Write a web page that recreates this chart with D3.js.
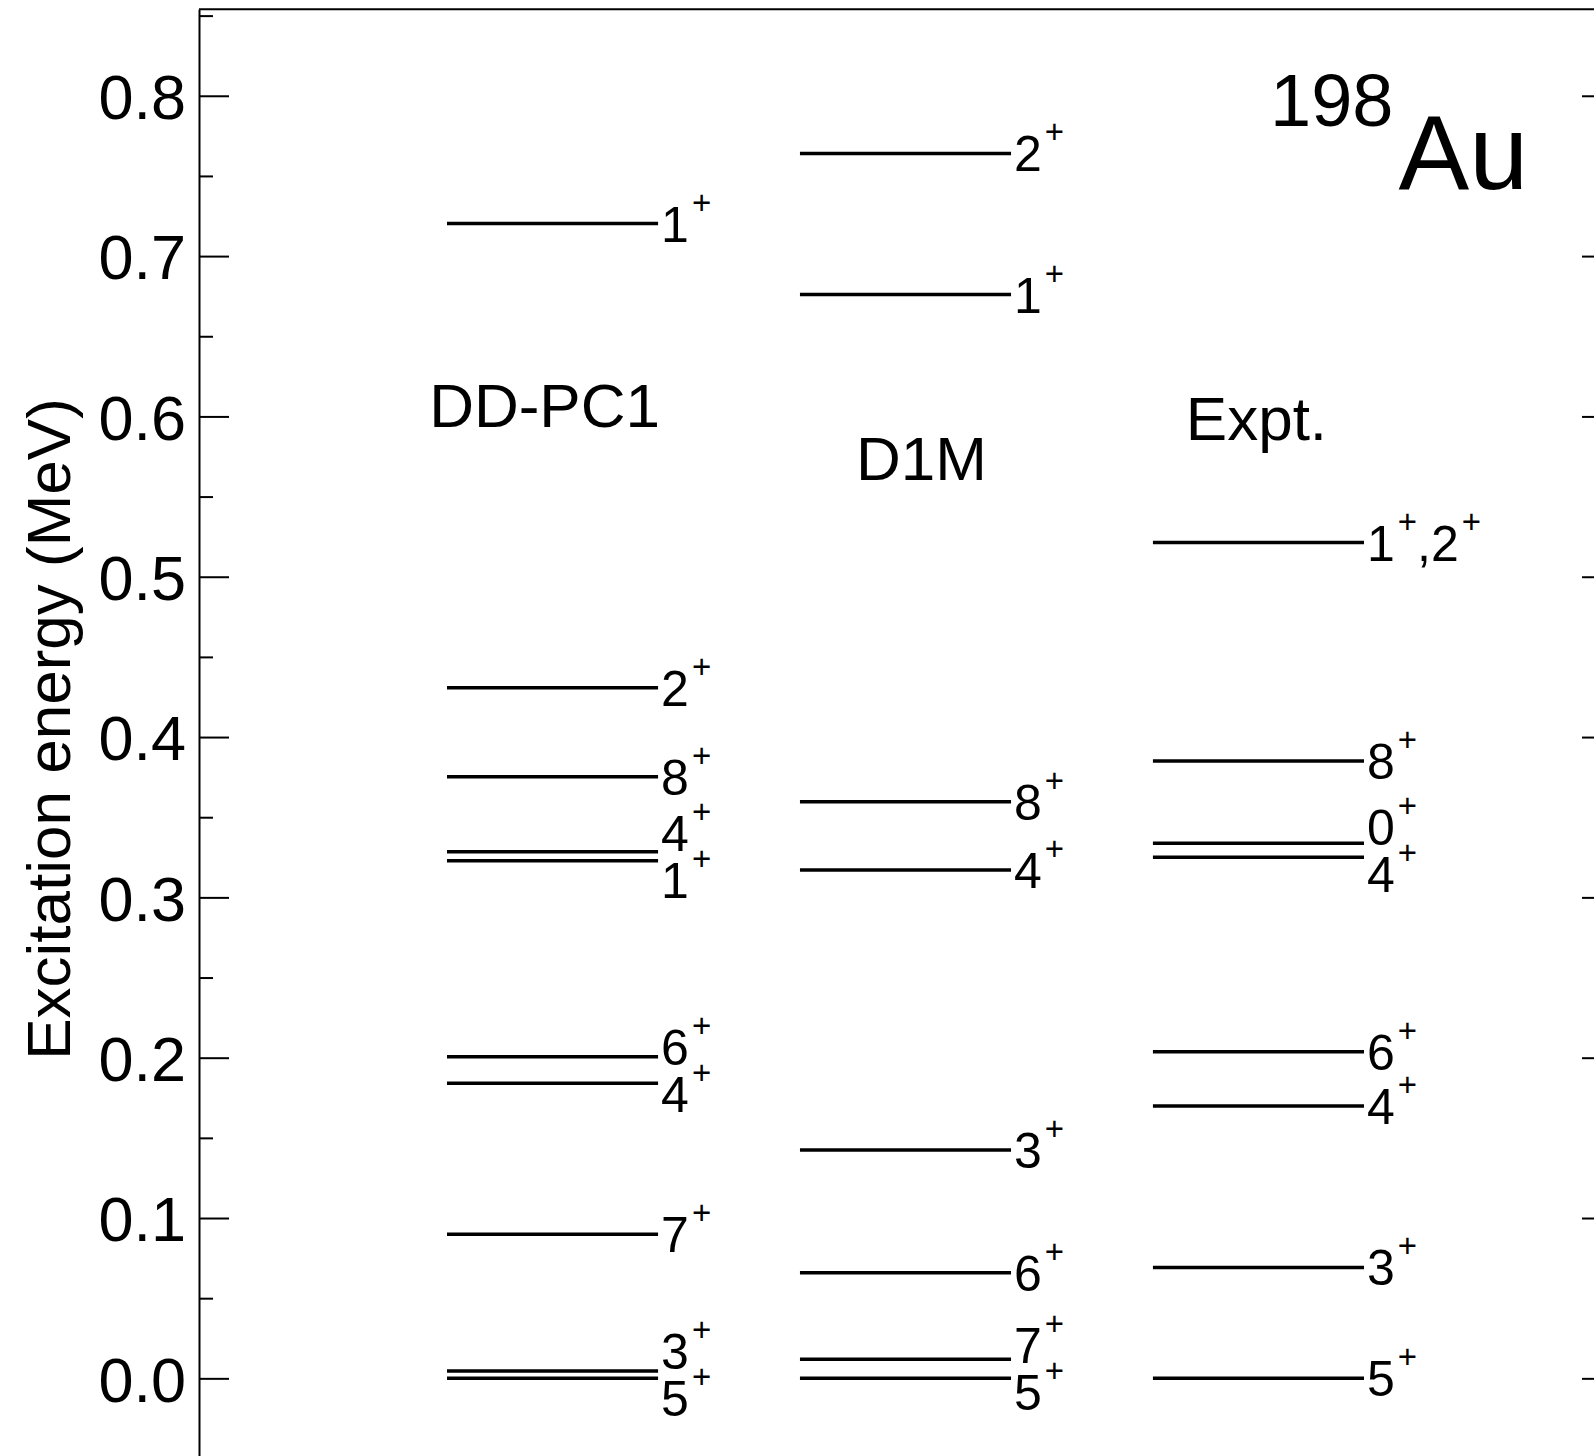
<!DOCTYPE html>
<html>
<head>
<meta charset="utf-8">
<script src="https://cdn.jsdelivr.net/npm/d3@7"></script>
<style>
  body { margin: 0; background: #fff; }
  svg { display: block; background: #fff; font-family: "Liberation Sans", Arial, Helvetica, sans-serif; }
</style>
</head>
<body>
<svg id="chart" width="1594" height="1456"></svg>
<script>
// level schemes of 198Au, energies in MeV
const columns = ["DD-PC1", "D1M", "Expt."];

const ddpc1Energy = [0.7203, 0.4308, 0.3753, 0.3285, 0.3229, 0.2006, 0.1840, 0.0898, 0.0046, 0.0];
const ddpc1Spin   = ["1+", "2+", "8+", "4+", "1+", "6+", "4+", "7+", "3+", "5+"];

const d1mEnergy = [0.7640, 0.6760, 0.3597, 0.3171, 0.1425, 0.0659, 0.0119, 0.0];
const d1mSpin   = ["2+", "1+", "8+", "4+", "3+", "6+", "7+", "5+"];

const exptEnergy = [0.5213, 0.3851, 0.3338, 0.3250, 0.2037, 0.1699, 0.0692, 0.0];
const exptSpin   = ["1+,2+", "8+", "0+", "4+", "6+", "4+", "3+", "5+"];

const yTicks = [0, 0.1, 0.2, 0.3, 0.4, 0.5, 0.6, 0.7, 0.8];
const yMinorTicks = [-0.05, 0.05, 0.15, 0.25, 0.35, 0.45, 0.55, 0.65, 0.75, 0.85];

const levels = [
  { name: columns[0], energy: ddpc1Energy, spin: ddpc1Spin },
  { name: columns[1], energy: d1mEnergy, spin: d1mSpin },
  { name: columns[2], energy: exptEnergy, spin: exptSpin }
];

// where the column titles sit (baseline in MeV, shift in px)
const titleAt = [0.5934, 0.5604, 0.5854];
const titleDx = [-8, 16, -2];

const width = 1594, height = 1456;
const axisX = 199, rightX = 1612;
const labelSize = 50, supSize = 33;

const svg = d3.select("#chart");

const y = d3.scaleLinear()
  .domain([-0.05, 0.854])
  .range([1458.5, 9.2]);

const x = d3.scaleBand()
  .domain(columns)
  .range([447, 1364])
  .paddingInner(0.402)
  .paddingOuter(0);

// frame
const styleAxis = g => {
  g.attr("font-family", null).attr("font-size", null);
  g.selectAll("path, line").attr("stroke", "#000").attr("stroke-width", 2);
};

svg.append("g")
  .attr("transform", `translate(${axisX},0)`)
  .call(d3.axisLeft(y).tickValues(yTicks).tickSizeInner(-30).tickSizeOuter(0)
    .tickPadding(13).tickFormat(d3.format(".1f")))
  .call(styleAxis)
  .call(g => g.selectAll(".tick text").attr("font-size", 63).attr("fill", "#000").attr("dy", "0.36em"));

svg.append("g")
  .attr("transform", `translate(${axisX},0)`)
  .call(d3.axisLeft(y).tickValues(yMinorTicks).tickSizeInner(-14).tickSizeOuter(0).tickFormat(""))
  .call(styleAxis)
  .call(g => g.select(".domain").remove());

svg.append("g")
  .attr("transform", `translate(${rightX},0)`)
  .call(d3.axisRight(y).tickValues(yTicks).tickSizeInner(-30).tickSizeOuter(0).tickFormat(""))
  .call(styleAxis);

svg.append("line")
  .attr("x1", axisX).attr("x2", rightX)
  .attr("y1", y(0.854)).attr("y2", y(0.854))
  .attr("stroke", "#000").attr("stroke-width", 2);

// axis title
svg.append("text")
  .attr("transform", `translate(70,729) rotate(-90)`)
  .attr("text-anchor", "middle")
  .attr("font-size", 62)
  .text("Excitation energy (MeV)");

// nucleus
const nuc = svg.append("text").attr("x", 1270).attr("y", 126).attr("font-size", 74);
nuc.append("tspan").text("198");
nuc.append("tspan").attr("font-size", 106).attr("dx", 5).attr("dy", 63).text("Au");

// push close labels apart so they don't overlap
function spread(ys, gap) {
  const order = d3.range(ys.length).sort((a, b) => ys[a] - ys[b]);
  const out = ys.slice();
  for (let it = 0; it < 60; it++) {
    for (let k = 1; k < order.length; k++) {
      const a = order[k - 1], b = order[k];
      const d = out[b] - out[a];
      if (d < gap) {
        const s = (gap - d) / 2;
        out[a] -= s;
        out[b] += s;
      }
    }
  }
  return out;
}

function spinLabel(text, str) {
  const parts = str.split(/(\+)/).filter(p => p !== "");
  let up = false;
  parts.forEach(p => {
    const t = text.append("tspan").text(p);
    if (p === "+") {
      t.attr("font-size", supSize).attr("dy", -28).attr("dx", 3);
      up = true;
    } else if (up) {
      t.attr("dy", 28);
      up = false;
    }
  });
}

levels.forEach((col, ci) => {
  const g = svg.append("g");
  const x0 = x(col.name), x1 = x0 + x.bandwidth();
  const data = col.energy.map((e, i) => ({ e, spin: col.spin[i] }));

  g.selectAll("line")
    .data(data)
    .join("line")
    .attr("x1", x0).attr("x2", x1)
    .attr("y1", d => y(d.e)).attr("y2", d => y(d.e))
    .attr("stroke", "#000")
    .attr("stroke-width", 3.5);

  const ly = spread(data.map(d => y(d.e)), 47);

  g.selectAll("text.spin")
    .data(data)
    .join("text")
    .attr("class", "spin")
    .attr("x", x1 + 3)
    .attr("y", (d, i) => ly[i] + 0.36 * labelSize)
    .attr("font-size", labelSize)
    .each(function(d) { spinLabel(d3.select(this), d.spin); });

  svg.append("text")
    .attr("x", x0 + x.bandwidth() / 2 + titleDx[ci])
    .attr("y", y(titleAt[ci]))
    .attr("text-anchor", "middle")
    .attr("font-size", 62)
    .text(col.name);
});
</script>
</body>
</html>
